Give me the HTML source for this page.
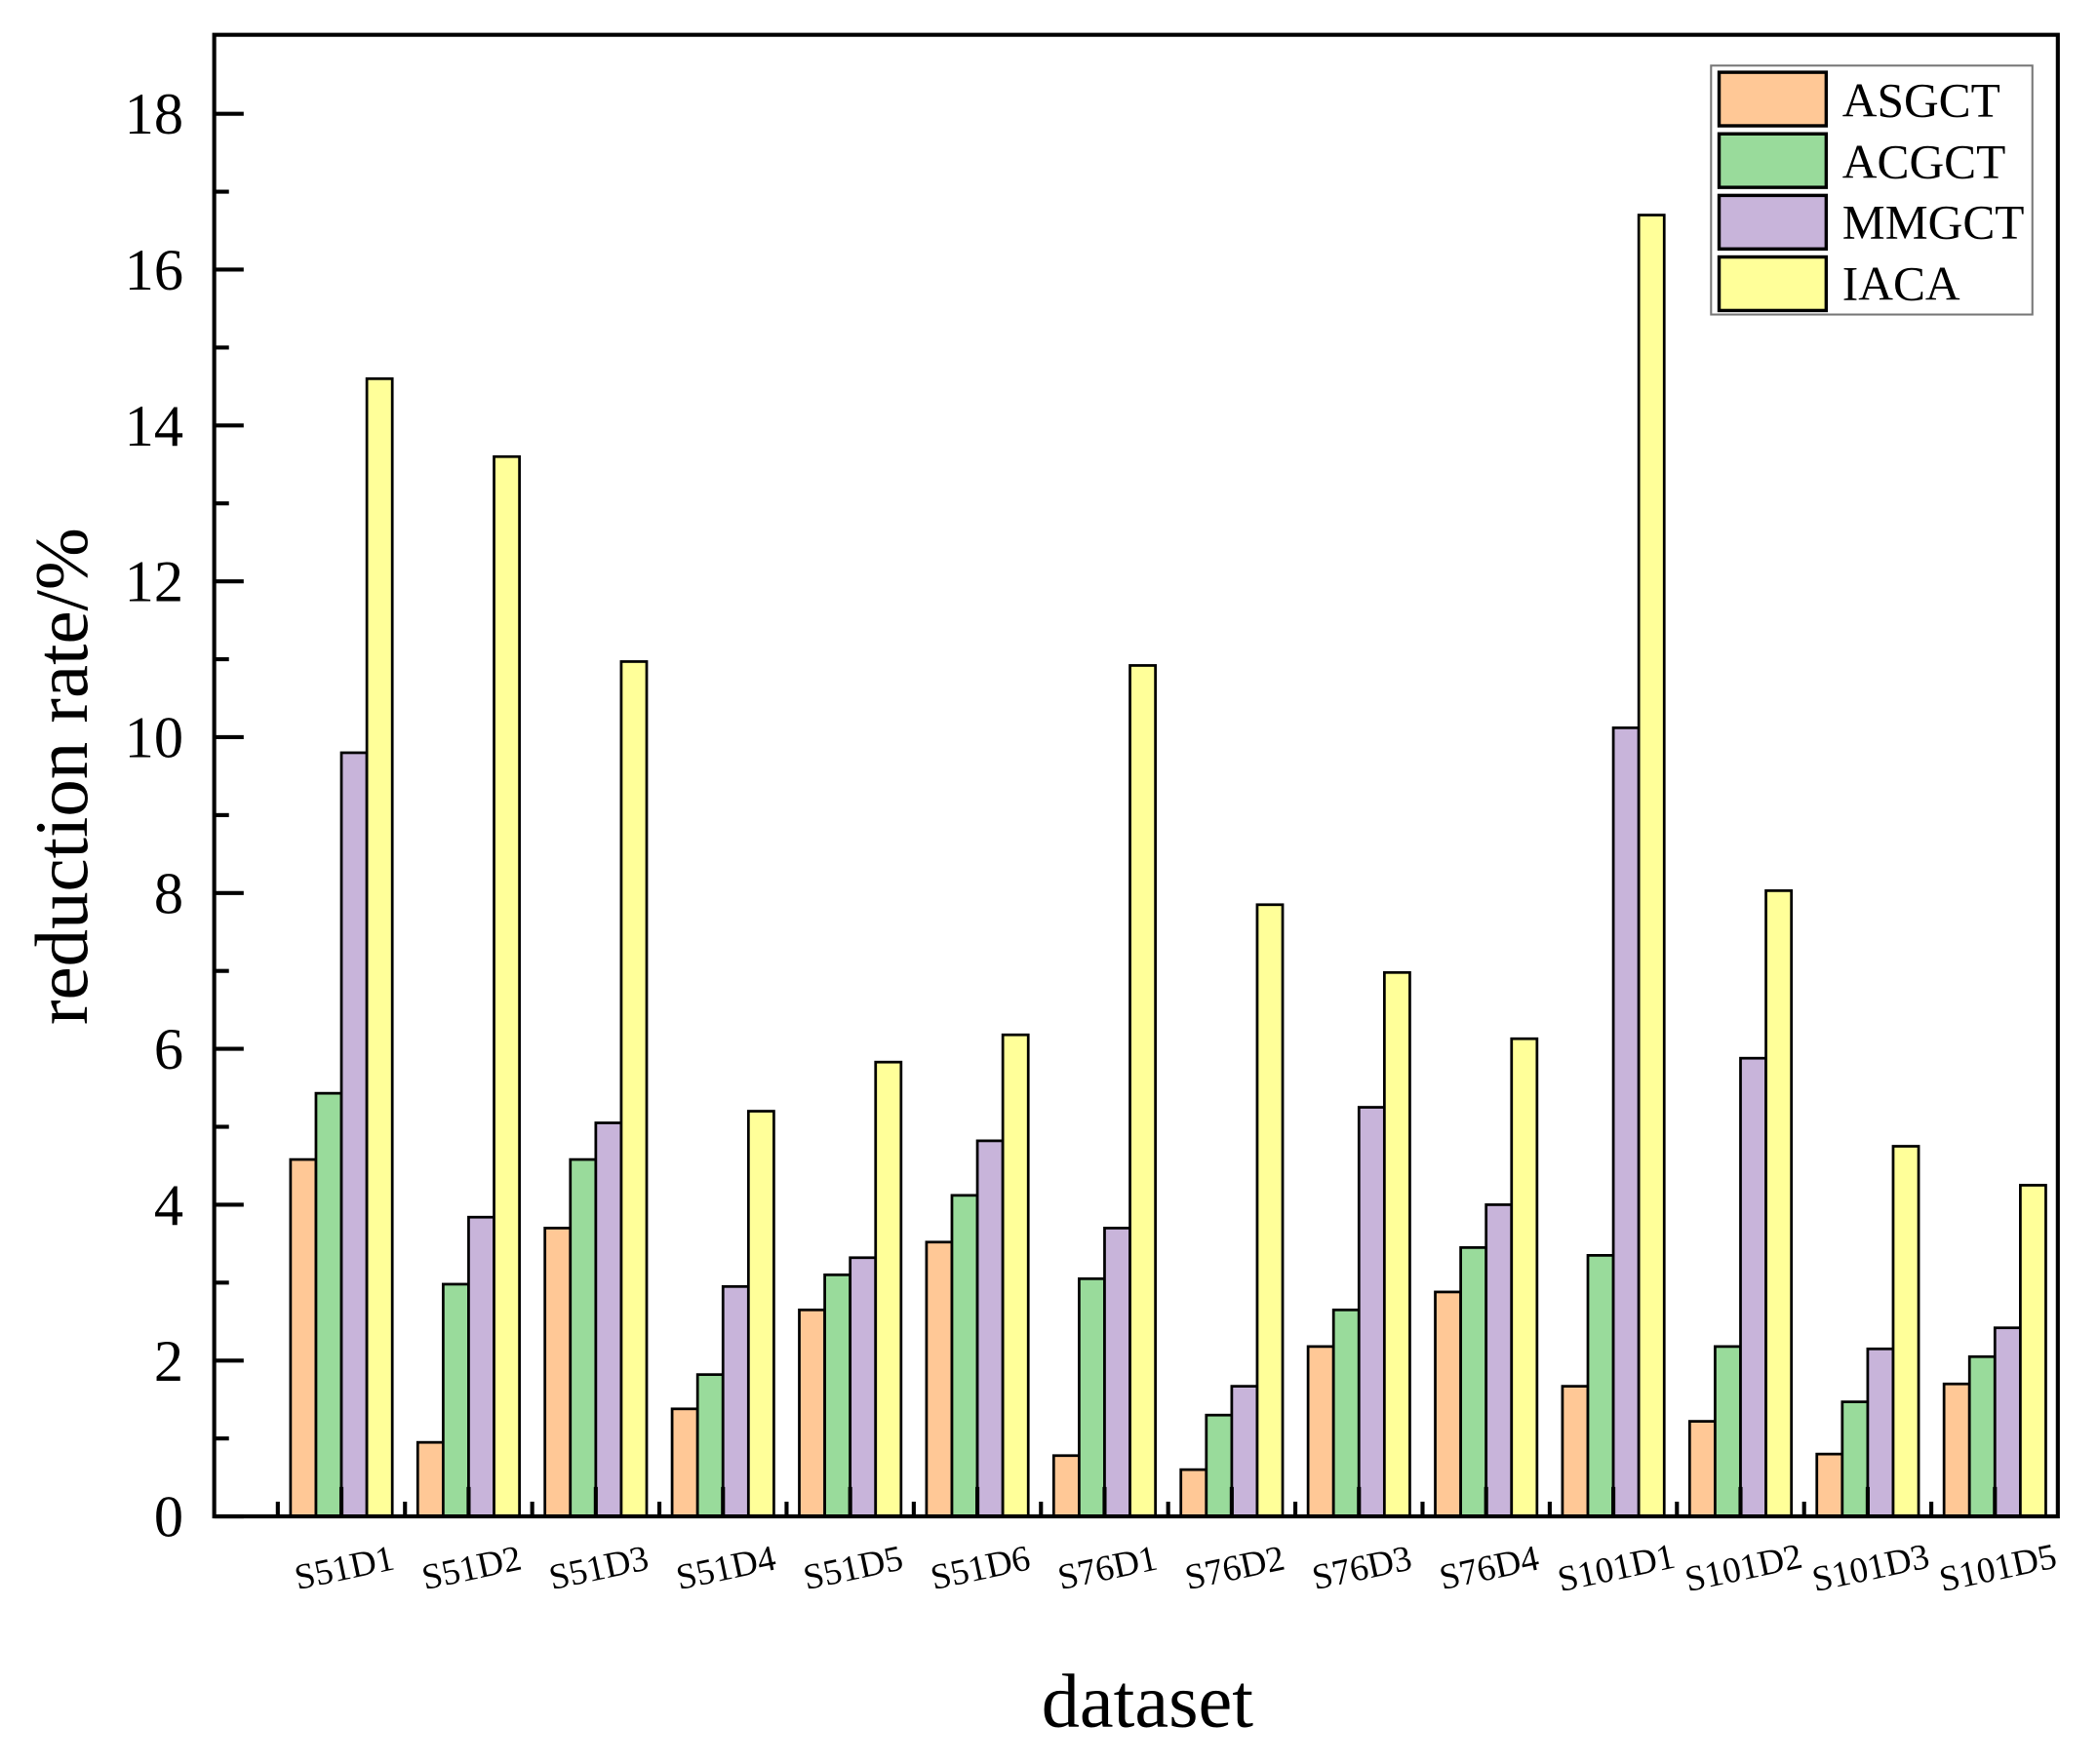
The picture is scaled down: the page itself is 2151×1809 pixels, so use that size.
<!DOCTYPE html>
<html><head><meta charset="utf-8"><style>
html,body{margin:0;padding:0;background:#fff;}
svg{display:block;}
text{font-family:"Liberation Serif",serif;fill:#000;}
</style></head><body>
<svg id="s" width="2151" height="1809" viewBox="0 0 1567 1318" preserveAspectRatio="none" xmlns="http://www.w3.org/2000/svg">
<g id="bars"></g>
<rect x="160" y="26" width="1377" height="1107" fill="none" stroke="#000" stroke-width="3"/>
<g id="ticks"></g>
<text x="52" y="580" font-size="56" text-anchor="middle" transform="rotate(-90 52 580)" dominant-baseline="middle">reduction rate/%</text>
<text x="857" y="1290" font-size="57" text-anchor="middle">dataset</text>
<rect x="1278" y="49" width="240" height="186" fill="#fff" stroke="#777" stroke-width="1.5"/>
<rect x="1284" y="54" width="80" height="40" fill="#FFC896" stroke="#000" stroke-width="2.5"/>
<rect x="1284" y="100" width="80" height="40" fill="#99DB9B" stroke="#000" stroke-width="2.5"/>
<rect x="1284" y="146" width="80" height="40" fill="#C8B4DA" stroke="#000" stroke-width="2.5"/>
<rect x="1284" y="192" width="80" height="40" fill="#FFFF99" stroke="#000" stroke-width="2.5"/>
<text x="1376" y="87" font-size="36">ASGCT</text>
<text x="1376" y="133" font-size="36">ACGCT</text>
<text x="1376" y="178" font-size="36">MMGCT</text>
<text x="1376" y="224" font-size="36">IACA</text>
</svg>
<script>
var d=[["S51D1",4.58,5.43,9.8,14.6],["S51D2",0.95,2.98,3.84,13.6],["S51D3",3.7,4.58,5.05,10.97],["S51D4",1.38,1.82,2.95,5.2],["S51D5",2.65,3.1,3.32,5.83],["S51D6",3.52,4.12,4.82,6.18],["S76D1",0.78,3.05,3.7,10.92],["S76D2",0.6,1.3,1.67,7.85],["S76D3",2.18,2.65,5.25,6.98],["S76D4",2.88,3.45,4.0,6.13],["S101D1",1.67,3.35,10.12,16.7],["S101D2",1.22,2.18,5.88,8.03],["S101D3",0.8,1.47,2.15,4.75],["S101D5",1.7,2.05,2.42,4.25]];
var cols=["#FFC896","#99DB9B","#C8B4DA","#FFFF99"];
var y0=1133,u=(1133-85)/18,h="",t="";
for(var i=0;i<d.length;i++){var c=255+95*i;
for(var k=0;k<4;k++){var v=d[i][k+1],x=c-38+19*k,y=y0-v*u;
h+='<rect x="'+x+'" y="'+y+'" width="19" height="'+(v*u)+'" fill="'+cols[k]+'" stroke="#000" stroke-width="2"/>';}
t+='<line x1="'+(c-47.5)+'" y1="'+y0+'" x2="'+(c-47.5)+'" y2="'+(y0-11)+'" stroke="#000" stroke-width="3"/>';
t+='<line x1="'+c+'" y1="'+y0+'" x2="'+c+'" y2="'+(y0-22)+'" stroke="#000" stroke-width="3"/>';
t+='<text font-size="27" text-anchor="middle" transform="translate('+(c+4)+',1180) rotate(-12)">'+d[i][0]+'</text>';}
for(var j=0;j<=18;j++){var y=y0-j*u,len=(j%2==0)?22:11;
t+='<line x1="160" y1="'+y+'" x2="'+(160+len)+'" y2="'+y+'" stroke="#000" stroke-width="3"/>';
if(j%2==0)t+='<text x="137" y="'+(y+15)+'" font-size="44" text-anchor="end">'+j+'</text>';}
document.getElementById("bars").innerHTML=h;
document.getElementById("ticks").innerHTML=t;
</script>
</body></html>
